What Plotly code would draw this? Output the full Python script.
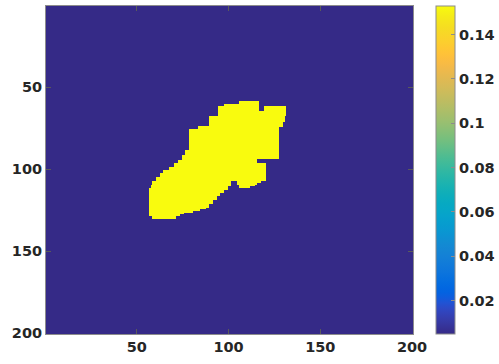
import numpy as np
import plotly.graph_objects as go

# Grid size and field levels
n_rows = 200
n_cols = 200
background_level = 0.0049
blob_level = 0.1529

# High-valued region, as horizontal runs: (first row, last row, first col, last col)
blob_runs = [
    (59, 60, 106, 116),
    (61, 61, 98, 116),
    (62, 64, 95, 116), (62, 64, 120, 131),
    (65, 67, 95, 131),
    (68, 71, 90, 130),
    (72, 73, 90, 129),
    (74, 74, 84, 129),
    (75, 75, 84, 127),
    (76, 88, 79, 127),
    (89, 91, 77, 127),
    (92, 93, 75, 127),
    (94, 94, 75, 115),
    (95, 96, 73, 115),
    (97, 98, 71, 120),
    (99, 100, 68, 120),
    (101, 102, 65, 120),
    (103, 104, 63, 120),
    (105, 107, 61, 120),
    (108, 108, 59, 101), (108, 108, 105, 117),
    (109, 109, 59, 101), (109, 109, 105, 115),
    (110, 110, 58, 101), (110, 110, 106, 114),
    (111, 111, 58, 99), (111, 111, 106, 111),
    (112, 112, 57, 99),
    (113, 114, 57, 97),
    (115, 116, 57, 95),
    (117, 118, 57, 93),
    (119, 121, 57, 91),
    (122, 123, 57, 89),
    (124, 124, 57, 87),
    (125, 125, 57, 84),
    (126, 126, 57, 80),
    (127, 127, 57, 75),
    (128, 128, 57, 73),
    (129, 130, 59, 71),
]

x_ticks = [50, 100, 150, 200]
y_ticks = [50, 100, 150, 200]
cbar_ticks = [0.02, 0.04, 0.06, 0.08, 0.10, 0.12, 0.14]
cbar_labels = ["0.02", "0.04", "0.06", "0.08", "0.1", "0.12", "0.14"]

# parula colormap (64 entries)
parula = [
    (0.2081, 0.1663, 0.5292), (0.2116, 0.1898, 0.5777), (0.2123, 0.2138, 0.6270),
    (0.2081, 0.2386, 0.6771), (0.1959, 0.2645, 0.7279), (0.1707, 0.2919, 0.7792),
    (0.1253, 0.3242, 0.8303), (0.0591, 0.3598, 0.8683), (0.0117, 0.3875, 0.8820),
    (0.0060, 0.4086, 0.8828), (0.0165, 0.4266, 0.8786), (0.0329, 0.4430, 0.8720),
    (0.0498, 0.4586, 0.8641), (0.0629, 0.4737, 0.8554), (0.0723, 0.4887, 0.8467),
    (0.0779, 0.5040, 0.8384), (0.0793, 0.5200, 0.8312), (0.0749, 0.5375, 0.8263),
    (0.0641, 0.5570, 0.8240), (0.0488, 0.5772, 0.8228), (0.0343, 0.5966, 0.8199),
    (0.0265, 0.6137, 0.8135), (0.0239, 0.6287, 0.8038), (0.0231, 0.6418, 0.7913),
    (0.0228, 0.6535, 0.7768), (0.0267, 0.6642, 0.7607), (0.0384, 0.6743, 0.7436),
    (0.0590, 0.6838, 0.7254), (0.0843, 0.6928, 0.7062), (0.1133, 0.7015, 0.6859),
    (0.1453, 0.7098, 0.6646), (0.1801, 0.7177, 0.6424), (0.2178, 0.7250, 0.6193),
    (0.2586, 0.7317, 0.5954), (0.3022, 0.7376, 0.5712), (0.3482, 0.7424, 0.5473),
    (0.3953, 0.7459, 0.5244), (0.4420, 0.7481, 0.5033), (0.4871, 0.7491, 0.4840),
    (0.5300, 0.7491, 0.4661), (0.5709, 0.7485, 0.4494), (0.6099, 0.7473, 0.4337),
    (0.6473, 0.7456, 0.4188), (0.6834, 0.7435, 0.4044), (0.7184, 0.7411, 0.3905),
    (0.7525, 0.7384, 0.3768), (0.7858, 0.7356, 0.3633), (0.8185, 0.7327, 0.3498),
    (0.8507, 0.7299, 0.3360), (0.8824, 0.7274, 0.3217), (0.9139, 0.7258, 0.3063),
    (0.9450, 0.7261, 0.2886), (0.9739, 0.7314, 0.2666), (0.9938, 0.7455, 0.2403),
    (0.9990, 0.7653, 0.2164), (0.9955, 0.7861, 0.1967), (0.9880, 0.8066, 0.1794),
    (0.9789, 0.8271, 0.1633), (0.9697, 0.8481, 0.1475), (0.9626, 0.8705, 0.1309),
    (0.9589, 0.8949, 0.1132), (0.9598, 0.9218, 0.0948), (0.9661, 0.9514, 0.0755),
    (0.9763, 0.9831, 0.0538),
]
colorscale = [
    [i / (len(parula) - 1),
     "rgb({:.0f},{:.0f},{:.0f})".format(r * 255, g * 255, b * 255)]
    for i, (r, g, b) in enumerate(parula)
]

# Assemble the field
z = np.full((n_rows, n_cols), background_level)
for r0, r1, c0, c1 in blob_runs:
    z[r0 - 1:r1, c0 - 1:c1] = blob_level

rows = np.arange(1, n_rows + 1)
cols = np.arange(1, n_cols + 1)

font = dict(family="DejaVu Sans", size=14.5, color="#262626", weight="bold")
frame = "#8c8c8c"

fig = go.Figure(
    go.Heatmap(
        z=z, x=cols, y=rows,
        colorscale=colorscale,
        zmin=background_level, zmax=blob_level,
        colorbar=dict(
            x=1.062, xanchor="left", xpad=0,
            y=0.5, yanchor="middle", ypad=0,
            len=1.0, lenmode="fraction",
            thickness=19, thicknessmode="pixels",
            outlinewidth=1, outlinecolor=frame,
            tickmode="array", tickvals=cbar_ticks, ticktext=cbar_labels,
            ticks="inside", ticklen=4, tickcolor=frame,
            tickfont=font,
        ),
        hoverinfo="skip",
    )
)

axis_common = dict(
    showgrid=False, zeroline=False,
    showline=True, linecolor=frame, linewidth=1, mirror="ticks",
    ticks="inside", ticklen=5, tickcolor="#5a5a5a",
    tickfont=font,
)

fig.update_xaxes(range=[0.5, 200.5], tickvals=x_ticks, **axis_common)
fig.update_yaxes(range=[200.5, 0.5], tickvals=y_ticks, **axis_common)

fig.update_layout(
    width=499, height=364,
    margin=dict(l=46, r=86, t=6, b=30, autoexpand=False),
    paper_bgcolor="white", plot_bgcolor="white",
)

fig.write_html("out.html")
